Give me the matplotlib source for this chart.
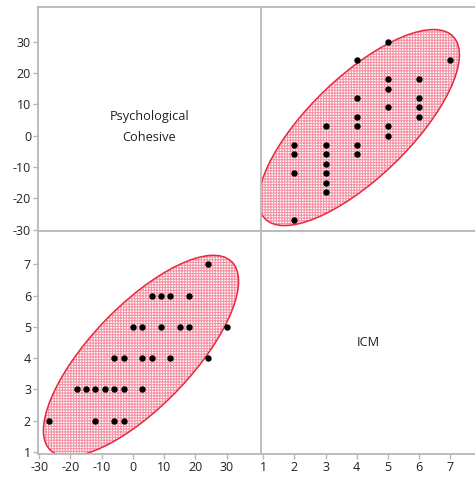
import numpy as np
import matplotlib
matplotlib.use("Agg")
import matplotlib.pyplot as plt
from matplotlib.patches import Ellipse

plt.rcParams['font.family'] = ['Open Sans', 'DejaVu Sans']
plt.rcParams['axes.unicode_minus'] = False
plt.rcParams['hatch.linewidth'] = 0.8

# data (Psychological Cohesive, ICM)
pc = [-27, -12, -6, -3,
      -18, -15, -12, -9, -6, -3, 3,
      -6, -3, 3, 6, 12, 24,
      0, 3, 9, 15, 18, 30,
      6, 9, 12, 18,
      24]
icm = [2, 2, 2, 2,
       3, 3, 3, 3, 3, 3, 3,
       4, 4, 4, 4, 4, 4,
       5, 5, 5, 5, 5, 5,
       6, 6, 6, 6,
       7]
names = ["Psychological\nCohesive", "ICM"]
pc_ticks = [-30, -20, -10, 0, 10, 20, 30]
icm_ticks = [1, 2, 3, 4, 5, 6, 7]

pc_lim = (-30.4, 41.0)
icm_lim = (0.93, 8.07)

W, H = 475, 483
fig = plt.figure(figsize=(W / 100, H / 100), dpi=100)

def box(x0, y0, x1, y1):
    return [x0 / W, 1 - y1 / H, (x1 - x0) / W, (y1 - y0) / H]

ax_tl = fig.add_axes(box(38, 7, 261, 231))
ax_tr = fig.add_axes(box(261, 7, 475, 231))
ax_bl = fig.add_axes(box(38, 231, 261, 454))
ax_br = fig.add_axes(box(261, 231, 475, 454))

grey = '#b8b8b8'
for ax in [ax_tl, ax_tr, ax_bl, ax_br]:
    for s in ax.spines.values():
        s.set_color(grey)
        s.set_linewidth(1.3)
    ax.spines['right'].set_visible(False)
    ax.tick_params(colors=grey, labelcolor='#222222', length=3.5, width=1,
                   labelsize=9, pad=1.5)
    ax.set_xticks([])
    ax.set_yticks([])


def density_ellipse(ax, x, y):
    x = np.asarray(x, float)
    y = np.asarray(y, float)
    cov = np.cov(x, y)
    vals, vecs = np.linalg.eigh(cov)
    order = vals.argsort()[::-1]
    vals, vecs = vals[order], vecs[:, order]
    ang = np.degrees(np.arctan2(vecs[1, 0], vecs[0, 0]))
    k = 2.28  # ellipse size matched to the picture
    w, h = 2 * k * np.sqrt(vals)
    fill = Ellipse((x.mean(), y.mean()), w, h, angle=ang, facecolor='white',
                   edgecolor='#f494a6', hatch='++++++', linewidth=0, zorder=1)
    edge = Ellipse((x.mean(), y.mean()), w, h, angle=ang, facecolor='none',
                   edgecolor='#e8283f', linewidth=1.1, zorder=2)
    ax.add_patch(fill)
    ax.add_patch(edge)
    ax.plot(x, y, 'o', color='black', markersize=3.6, zorder=3)


# top-right: PC vs ICM
density_ellipse(ax_tr, icm, pc)
ax_tr.set_xlim(icm_lim[0], 7.79)
ax_tr.set_ylim(pc_lim)

# bottom-left: ICM vs PC
density_ellipse(ax_bl, pc, icm)
ax_bl.set_xlim(pc_lim)
ax_bl.set_ylim(icm_lim)

ax_tl.set_xlim(pc_lim)
ax_tl.set_ylim(pc_lim)
ax_br.set_xlim(icm_lim[0], 7.79)
ax_br.set_ylim(icm_lim)

ax_tl.set_yticks(pc_ticks)
ax_bl.set_yticks(icm_ticks)
ax_bl.set_xticks(pc_ticks)
ax_br.set_xticks(icm_ticks)

ax_tl.text(0.5, 0.465, names[0], transform=ax_tl.transAxes, ha='center',
           va='center', fontsize=9.2, color='#222222', linespacing=1.8)
ax_br.text(0.5, 0.5, names[1], transform=ax_br.transAxes, ha='center',
           va='center', fontsize=9.2, color='#222222')

fig.savefig("out.png", dpi=100)
